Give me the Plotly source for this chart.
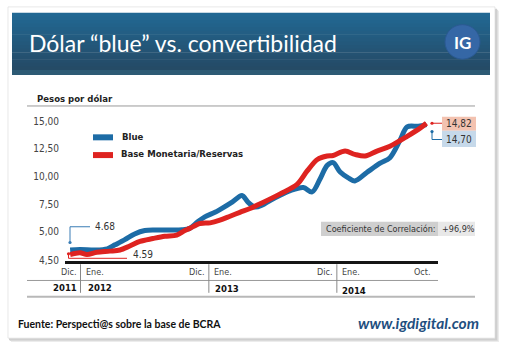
import plotly.graph_objects as go
from datetime import datetime, timedelta

W, H = 507, 354

# ---------------- data ----------------
blue_dates = ["2011-12-01", "2011-12-29", "2012-02-10", "2012-03-16", "2012-04-07", "2012-05-05",
              "2012-06-02", "2012-07-01", "2012-07-30", "2012-09-10", "2012-10-15", "2012-11-06",
              "2012-11-29", "2012-12-19", "2013-01-17", "2013-01-31", "2013-03-08", "2013-04-04",
              "2013-04-21", "2013-05-11", "2013-05-31", "2013-06-23", "2013-07-22", "2013-08-20",
              "2013-09-26", "2013-10-21", "2013-11-13", "2013-12-03", "2013-12-20", "2014-01-09",
              "2014-01-31", "2014-02-20", "2014-03-26", "2014-05-03", "2014-05-31", "2014-06-29",
              "2014-07-19", "2014-08-20", "2014-09-12"]
blue_values = [4.68, 4.69, 4.68, 4.70, 4.77, 4.86,
               4.96, 5.10, 5.15, 5.15, 5.17, 5.30,
               5.90, 6.34, 6.75, 7.00, 7.70, 8.28,
               7.68, 7.23, 7.40, 7.83, 8.30, 8.72,
               9.00, 8.60, 9.80, 11.00, 11.25, 10.40,
               9.90, 9.60, 10.36, 11.20, 11.70, 13.30,
               14.50, 14.55, 14.70]

red_dates = ["2011-12-01", "2011-12-29", "2012-01-18", "2012-02-15", "2012-03-23", "2012-04-21",
             "2012-05-19", "2012-06-17", "2012-07-24", "2012-08-27", "2012-09-30", "2012-10-23",
             "2012-11-06", "2012-12-05", "2013-01-03", "2013-01-31", "2013-03-01", "2013-03-29",
             "2013-04-27", "2013-05-31", "2013-07-22", "2013-09-09", "2013-10-07", "2013-11-05",
             "2013-12-03", "2013-12-20", "2014-01-23", "2014-02-20", "2014-03-21", "2014-04-24",
             "2014-05-31", "2014-07-19", "2014-08-26", "2014-09-12"]
red_values = [4.60, 4.63, 4.60, 4.64, 4.66, 4.68,
              4.75, 4.83, 4.88, 4.92, 4.94, 5.10,
              5.30, 5.74, 5.80, 6.04, 6.40, 6.75,
              7.10, 7.60, 8.42, 9.31, 10.50, 11.54,
              11.85, 11.90, 12.30, 12.00, 11.85, 12.30,
              12.74, 13.63, 14.40, 14.82]

y_tick_values = [4.5, 5.0, 7.5, 10.0, 12.5, 15.0]
y_tick_labels = ["4,50", "5,00", "7,50", "10,00", "12,50", "15,00"]

series_names = ["Blue", "Base Monetaria/Reservas"]
start_labels = ["4.68", "4.59"]
end_labels = ["14,70", "14,82"]
correlation_label = "Coeficiente de Correlación:"
correlation_value = "+96,9%"

month_labels = [("Dic.", "2011-12-31", "right"), ("Ene.", "2012-01-01", "left"),
                ("Dic.", "2012-12-31", "right"), ("Ene.", "2013-01-01", "left"),
                ("Dic.", "2013-12-31", "right"), ("Ene.", "2014-01-01", "left")]
year_labels = ["2011", "2012", "2013", "2014"]

BLUE = "#1d6ca6"
RED = "#de2320"
NARROW = "DejaVu Sans Condensed, Liberation Sans Narrow, Arial Narrow, sans-serif"
HUMAN = "Lato, Open Sans, sans-serif"


# broken scale: below 5,00 the axis is stretched
def t(v):
    return v if v >= 5 else 5 - (5 - v) * 5.18


# pixel helpers (layout only)
def px(x):
    return x / W


def py(y):
    return 1 - y / H


BASE = datetime(2012, 1, 1)
PPD = 128 / 365.0  # px per day
X0PX = 81


def px2date(x):
    return (BASE + timedelta(days=(x - X0PX) / PPD)).strftime("%Y-%m-%d %H:%M")


def date2px(d):
    dd = datetime.strptime(d, "%Y-%m-%d")
    return X0PX + (dd - BASE).days * PPD


fig = go.Figure()
fig.add_trace(go.Scatter(x=blue_dates, y=[t(v) for v in blue_values], mode="lines",
                         line=dict(color=BLUE, width=5, shape="spline", smoothing=0.9),
                         name=series_names[0], showlegend=False, hoverinfo="skip"))
fig.add_trace(go.Scatter(x=red_dates, y=[t(v) for v in red_values], mode="lines",
                         line=dict(color=RED, width=5, shape="spline", smoothing=0.9),
                         name=series_names[1], showlegend=False, hoverinfo="skip"))

shapes = []
ann = []


def rect(x0, y0, x1, y1, fill, line=None, lw=0, layer="below"):
    shapes.append(dict(type="rect", xref="paper", yref="paper", x0=px(x0), x1=px(x1),
                       y0=py(y1), y1=py(y0), fillcolor=fill,
                       line=dict(color=line or fill, width=lw), layer=layer))


def hline(x0, x1, y, color, w):
    shapes.append(dict(type="line", xref="paper", yref="paper", x0=px(x0), x1=px(x1),
                       y0=py(y), y1=py(y), line=dict(color=color, width=w)))


def vline(x, y0, y1, color, w):
    shapes.append(dict(type="line", xref="paper", yref="paper", x0=px(x), x1=px(x),
                       y0=py(y0), y1=py(y1), line=dict(color=color, width=w)))


def dot(x, y, color, r=1.6):
    shapes.append(dict(type="circle", xref="paper", yref="paper", x0=px(x - r), x1=px(x + r),
                       y0=py(y + r), y1=py(y - r), fillcolor=color, line=dict(width=0)))


def text(x, y, s, size, color, anchor="left", family=NARROW, bold=False, italic=False):
    if bold:
        s = "<b>" + s + "</b>"
    if italic:
        s = "<i>" + s + "</i>"
    ann.append(dict(xref="paper", yref="paper", x=px(x), y=py(y), text=s, showarrow=False,
                    xanchor=anchor, yanchor="middle",
                    font=dict(family=family, size=size, color=color)))


# card with shadow
for i, c in enumerate(["#ececec", "#dedede", "#cfcfcf"]):
    o = 3 - i
    rect(8 + o, 8 + o, 496 + o, 344 + o, c)
rect(8, 7, 495, 343, "#ffffff", "#d8d8d8", 0.6)

# header gradient
top = (0x22, 0x68, 0x93)
bot = (0x25, 0x4b, 0x66)
n = 16
y0, y1 = 13, 71
for i in range(n):
    f = i / (n - 1)
    c = tuple(int(top[k] + (bot[k] - top[k]) * f) for k in range(3))
    rect(12, y0 + (y1 - y0) * i / n, 490, y0 + (y1 - y0) * (i + 1) / n + 0.5, "rgb(%d,%d,%d)" % c)
rect(12, 71, 490, 76, "#2d5a74")
text(27, 44, "Dólar “blue” vs. convertibilidad", 23, "#ffffff", family=HUMAN)
shapes.append(dict(type="circle", xref="paper", yref="paper", x0=px(445), x1=px(480),
                   y0=py(60), y1=py(25), fillcolor="rgb(53,103,166)",
                   line=dict(color="rgb(43,90,147)", width=1), layer="above"))
text(462.5, 43, "IG", 17, "#ffffff", anchor="center", family=HUMAN, bold=True)

# chart frame lines
text(35, 100, "Pesos por dólar", 9.5, "#222222", bold=True)
hline(27, 475, 107.5, "#9a9a9a", 1)
hline(27, 438, 284.5, "#9a9a9a", 1)
hline(27, 475, 301, "#b8b8b8", 2)

# legend
hline(93, 113, 139.3, BLUE, 6)
hline(93, 113, 157.3, RED, 6)
text(120, 138, series_names[0], 9.5, "#222222", bold=True)
text(119, 156, series_names[1], 9.5, "#222222", bold=True)

# month / year labels
for lab, d, side in month_labels:
    xp = date2px(d)
    if side == "right":
        text(xp - 2, 276, lab, 9, "#444444", anchor="right")
    else:
        text(xp + 3, 276, lab, 9, "#444444", anchor="left")
sep = [date2px("2012-01-01") - 0.5, date2px("2013-01-01") - 0.5, date2px("2014-01-01") - 0.5]
for xp in sep:
    vline(xp, 268, 297, "#888888", 1)
text(date2px(blue_dates[-1]) + 7, 276, "Oct.", 9, "#444444", anchor="right")
text(sep[0] - 2, 292, year_labels[0], 9.5, "#111111", anchor="right", bold=True)
text(sep[0] + 5, 292, year_labels[1], 9.5, "#111111", bold=True)
text(sep[1] + 4, 293, year_labels[2], 9.5, "#111111", bold=True)
text(sep[2] + 3, 295, year_labels[3], 9.5, "#111111", bold=True)

# start labels
dot(70, 246, "#3a7db5")
vline(70, 246, 230, "#3a7db5", 1)
hline(70, 90, 230, "#3a7db5", 1)
text(93, 230, start_labels[0], 10, "#333333")
dot(68.5, 257.5, RED)
vline(68.5, 257.5, 262, RED, 1)
hline(68.5, 127, 262, RED, 1)
text(131, 258, start_labels[1], 10, "#333333")

# end labels
rect(442, 118.5, 476, 132.5, "#f3c2b0", layer="above")
rect(442, 132.5, 476, 149, "#c6d9ea", layer="above")
text(459, 125.5, end_labels[1], 10, "#333333", anchor="center")
text(459, 141, end_labels[0], 10, "#333333", anchor="center")
dot(432, 125, RED)
hline(432, 442, 125, RED, 1)
dot(432, 133.5, BLUE)
vline(432, 133.5, 141.5, BLUE, 1)
hline(432, 442, 141.5, BLUE, 1)

# correlation box
rect(321, 225, 438, 239.5, "#cfcfcf")
rect(438, 225, 475, 239.5, "#e8e8e8")
text(324, 232.5, correlation_label, 9, "#333333")
text(440, 232.5, correlation_value, 9, "#333333")

# footer
text(16, 329, "Fuente: Perspecti@s sobre la base de BCRA", 10.5, "#111111",
     family=HUMAN, bold=True)
text(481, 328, "www.igdigital.com", 15.5, "#1f4f80", anchor="right",
     family=HUMAN, bold=True, italic=True)

X_L, X_R = 65, 438
Y_T, Y_B = 110, 264.5
fig.update_layout(
    width=W, height=H, margin=dict(l=0, r=0, t=0, b=0),
    paper_bgcolor="#ffffff", plot_bgcolor="rgba(0,0,0,0)",
    showlegend=False,
    xaxis=dict(type="date", domain=[px(X_L), px(X_R)], range=[px2date(X_L), px2date(X_R)],
               showgrid=False, zeroline=False, showticklabels=False, ticks="",
               showline=True, linecolor="#151515", linewidth=3, fixedrange=True),
    yaxis=dict(domain=[py(Y_B), py(Y_T)],
               range=[5 - (Y_B - 235) / 11.2, 5 + (235 - Y_T) / 11.2],
               tickvals=[t(v) for v in y_tick_values], ticktext=y_tick_labels,
               showgrid=False, zeroline=False, showline=False, ticks="",
               ticklabelstandoff=5,
               tickfont=dict(family=NARROW, size=10, color="#444444"), fixedrange=True),
    shapes=shapes, annotations=ann,
)
fig.write_html("out.html")
